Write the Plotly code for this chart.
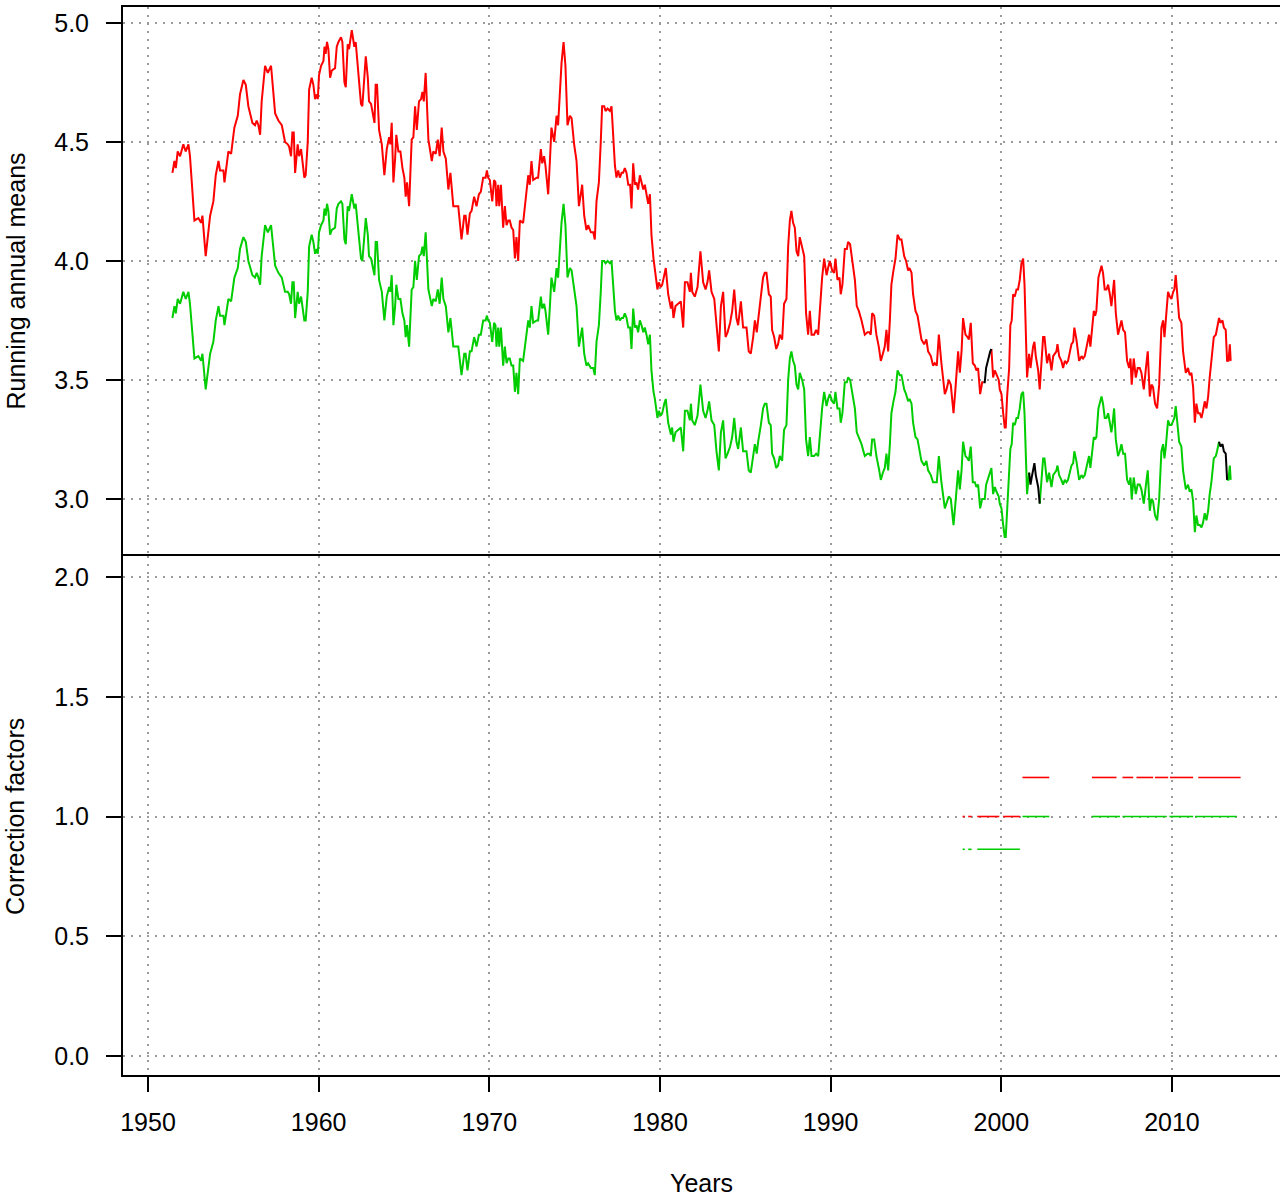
import numpy as np
import plotly.graph_objects as go

# ---- running annual means (time in decimal years) ----
years = [
    1951.43, 1951.55, 1951.63, 1951.74, 1951.88, 1952.07, 1952.21, 1952.37, 1952.46, 1952.72,
    1952.95, 1953.11, 1953.19, 1953.38, 1953.64, 1953.83, 1953.97, 1954.13, 1954.22, 1954.42,
    1954.48, 1954.71, 1954.87, 1955.06, 1955.26, 1955.39, 1955.59, 1955.73, 1955.88, 1956.12,
    1956.27, 1956.37, 1956.47, 1956.57, 1956.66, 1956.86, 1957.02, 1957.21, 1957.45, 1957.64,
    1957.84, 1958.03, 1958.19, 1958.27, 1958.38, 1958.46, 1958.54, 1958.62, 1958.77, 1958.85,
    1958.97, 1959.16, 1959.24, 1959.36, 1959.44, 1959.59, 1959.69, 1959.79, 1959.89, 1959.95,
    1960.02, 1960.14, 1960.28, 1960.34, 1960.41, 1960.49, 1960.57, 1960.67, 1960.77, 1960.96,
    1961.06, 1961.16, 1961.31, 1961.39, 1961.51, 1961.59, 1961.70, 1961.78, 1961.94, 1962.09,
    1962.17, 1962.33, 1962.48, 1962.56, 1962.68, 1962.76, 1962.88, 1962.95, 1963.07, 1963.15,
    1963.27, 1963.34, 1963.42, 1963.54, 1963.70, 1963.85, 1963.99, 1964.13, 1964.20, 1964.28,
    1964.38, 1964.48, 1964.55, 1964.67, 1964.79, 1964.91, 1965.02, 1965.10, 1965.18, 1965.30,
    1965.45, 1965.55, 1965.65, 1965.75, 1965.88, 1966.00, 1966.08, 1966.16, 1966.27, 1966.43,
    1966.63, 1966.72, 1966.86, 1966.98, 1967.09, 1967.21, 1967.31, 1967.45, 1967.60, 1967.72,
    1967.89, 1968.18, 1968.37, 1968.53, 1968.61, 1968.72, 1968.86, 1968.96, 1969.11, 1969.25,
    1969.39, 1969.50, 1969.64, 1969.78, 1969.86, 1969.93, 1970.03, 1970.17, 1970.28, 1970.36,
    1970.42, 1970.52, 1970.58, 1970.68, 1970.81, 1970.91, 1971.01, 1971.11, 1971.20, 1971.30,
    1971.40, 1971.50, 1971.59, 1971.69, 1971.79, 1971.98, 1972.12, 1972.28, 1972.37, 1972.47,
    1972.57, 1972.77, 1972.86, 1973.02, 1973.10, 1973.21, 1973.29, 1973.45, 1973.55, 1973.64,
    1973.80, 1973.94, 1974.03, 1974.13, 1974.23, 1974.35, 1974.46, 1974.58, 1974.72, 1974.82,
    1974.97, 1975.11, 1975.25, 1975.36, 1975.44, 1975.56, 1975.69, 1975.79, 1975.95, 1976.09,
    1976.18, 1976.28, 1976.42, 1976.53, 1976.61, 1976.73, 1976.81, 1976.93, 1977.06, 1977.16,
    1977.26, 1977.36, 1977.45, 1977.55, 1977.65, 1977.75, 1977.84, 1977.94, 1978.04, 1978.14,
    1978.25, 1978.33, 1978.43, 1978.53, 1978.62, 1978.72, 1978.82, 1978.92, 1979.02, 1979.11,
    1979.21, 1979.31, 1979.41, 1979.50, 1979.62, 1979.70, 1979.85, 1979.93, 1980.05, 1980.13,
    1980.25, 1980.34, 1980.48, 1980.64, 1980.71, 1980.79, 1980.91, 1981.07, 1981.22, 1981.36,
    1981.46, 1981.61, 1981.75, 1981.81, 1981.89, 1982.04, 1982.20, 1982.37, 1982.53, 1982.67,
    1982.78, 1982.88, 1983.02, 1983.18, 1983.31, 1983.45, 1983.57, 1983.70, 1983.84, 1983.96,
    1984.11, 1984.23, 1984.35, 1984.48, 1984.58, 1984.74, 1984.87, 1985.07, 1985.20, 1985.32,
    1985.46, 1985.56, 1985.67, 1985.75, 1985.91, 1986.04, 1986.14, 1986.24, 1986.38, 1986.49,
    1986.57, 1986.69, 1986.81, 1986.92, 1987.02, 1987.16, 1987.27, 1987.41, 1987.51, 1987.61,
    1987.70, 1987.80, 1987.90, 1988.00, 1988.10, 1988.19, 1988.33, 1988.45, 1988.56, 1988.68,
    1988.78, 1988.88, 1989.03, 1989.15, 1989.27, 1989.36, 1989.50, 1989.62, 1989.76, 1989.85,
    1989.95, 1990.09, 1990.20, 1990.28, 1990.40, 1990.52, 1990.59, 1990.69, 1990.83, 1990.95,
    1991.02, 1991.14, 1991.22, 1991.32, 1991.42, 1991.53, 1991.65, 1991.81, 1991.92, 1992.00,
    1992.16, 1992.27, 1992.35, 1992.43, 1992.55, 1992.68, 1992.82, 1992.94, 1993.06, 1993.17,
    1993.27, 1993.37, 1993.47, 1993.56, 1993.68, 1993.80, 1993.92, 1994.05, 1994.15, 1994.31,
    1994.42, 1994.54, 1994.62, 1994.74, 1994.83, 1994.97, 1995.09, 1995.22, 1995.32, 1995.48,
    1995.61, 1995.71, 1995.87, 1996.00, 1996.10, 1996.22, 1996.34, 1996.49, 1996.69, 1996.79,
    1996.92, 1997.04, 1997.20, 1997.31, 1997.47, 1997.57, 1997.67, 1997.76, 1997.90, 1998.02,
    1998.10, 1998.21, 1998.33, 1998.45, 1998.54, 1998.64, 1998.76, 1998.88, 1998.95, 1999.03,
    1999.11, 1999.23, 1999.35, 1999.42, 1999.52, 1999.62, 1999.72, 1999.85, 1999.91, 2000.01,
    2000.11, 2000.20, 2000.26, 2000.34, 2000.46, 2000.53, 2000.61, 2000.69, 2000.79, 2000.89,
    2000.98, 2001.08, 2001.18, 2001.28, 2001.36, 2001.43, 2001.51, 2001.63, 2001.71, 2001.78,
    2001.86, 2001.94, 2002.02, 2002.16, 2002.25, 2002.35, 2002.45, 2002.53, 2002.61, 2002.68,
    2002.80, 2002.94, 2003.04, 2003.13, 2003.23, 2003.29, 2003.39, 2003.52, 2003.62, 2003.72,
    2003.82, 2003.91, 2004.01, 2004.11, 2004.21, 2004.28, 2004.40, 2004.56, 2004.70, 2004.79,
    2004.89, 2005.03, 2005.14, 2005.22, 2005.30, 2005.42, 2005.50, 2005.57, 2005.69, 2005.77,
    2005.87, 2005.96, 2006.06, 2006.16, 2006.26, 2006.36, 2006.45, 2006.51, 2006.61, 2006.71,
    2006.84, 2006.94, 2007.04, 2007.14, 2007.25, 2007.37, 2007.49, 2007.57, 2007.64, 2007.76,
    2007.88, 2007.99, 2008.11, 2008.21, 2008.35, 2008.46, 2008.58, 2008.70, 2008.80, 2008.89,
    2009.01, 2009.13, 2009.25, 2009.38, 2009.48, 2009.56, 2009.64, 2009.77, 2009.87, 2009.97,
    2010.07, 2010.14, 2010.22, 2010.30, 2010.42, 2010.55, 2010.65, 2010.81, 2010.94, 2011.04,
    2011.14, 2011.24, 2011.34, 2011.43, 2011.53, 2011.63, 2011.73, 2011.82, 2011.92, 2012.02,
    2012.12, 2012.21, 2012.31, 2012.45, 2012.57, 2012.64, 2012.76, 2012.84, 2012.96, 2013.04,
    2013.15, 2013.23, 2013.31, 2013.39, 2013.44,
]

red_means = [
    4.37, 4.42, 4.39, 4.46, 4.44, 4.49, 4.46, 4.49, 4.44, 4.17,
    4.18, 4.16, 4.19, 4.02, 4.19, 4.25, 4.36, 4.42, 4.38, 4.38,
    4.33, 4.46, 4.45, 4.56, 4.61, 4.70, 4.76, 4.74, 4.65, 4.58,
    4.57, 4.59, 4.57, 4.53, 4.67, 4.82, 4.79, 4.82, 4.62, 4.59,
    4.57, 4.50, 4.49, 4.48, 4.44, 4.54, 4.54, 4.37, 4.49, 4.44,
    4.47, 4.35, 4.36, 4.50, 4.72, 4.77, 4.74, 4.68, 4.70, 4.68,
    4.78, 4.82, 4.84, 4.90, 4.87, 4.92, 4.89, 4.77, 4.80, 4.81,
    4.90, 4.92, 4.94, 4.92, 4.75, 4.73, 4.91, 4.89, 4.97, 4.90,
    4.92, 4.80, 4.66, 4.65, 4.78, 4.86, 4.77, 4.67, 4.66, 4.62,
    4.58, 4.74, 4.74, 4.55, 4.49, 4.36, 4.47, 4.52, 4.49, 4.58,
    4.33, 4.43, 4.53, 4.46, 4.46, 4.39, 4.35, 4.27, 4.33, 4.23,
    4.51, 4.52, 4.65, 4.55, 4.67, 4.68, 4.71, 4.67, 4.79, 4.51,
    4.42, 4.46, 4.45, 4.51, 4.44, 4.56, 4.46, 4.43, 4.30, 4.37,
    4.23, 4.23, 4.09, 4.19, 4.19, 4.11, 4.20, 4.21, 4.27, 4.23,
    4.28, 4.29, 4.35, 4.35, 4.38, 4.35, 4.34, 4.25, 4.34, 4.33,
    4.23, 4.32, 4.23, 4.32, 4.14, 4.23, 4.15, 4.17, 4.17, 4.14,
    4.13, 4.01, 4.10, 4.00, 4.17, 4.16, 4.25, 4.36, 4.32, 4.42,
    4.34, 4.35, 4.35, 4.47, 4.41, 4.44, 4.40, 4.28, 4.42, 4.56,
    4.50, 4.61, 4.57, 4.70, 4.83, 4.92, 4.82, 4.57, 4.61, 4.60,
    4.49, 4.42, 4.23, 4.28, 4.32, 4.19, 4.13, 4.15, 4.12, 4.12,
    4.09, 4.25, 4.33, 4.50, 4.65, 4.65, 4.63, 4.64, 4.63, 4.65,
    4.54, 4.40, 4.35, 4.38, 4.35, 4.37, 4.37, 4.39, 4.37, 4.32,
    4.32, 4.22, 4.41, 4.32, 4.33, 4.30, 4.36, 4.33, 4.30, 4.32,
    4.28, 4.24, 4.28, 4.11, 4.01, 3.97, 3.88, 3.91, 3.89, 3.90,
    3.95, 3.97, 3.86, 3.80, 3.83, 3.76, 3.81, 3.82, 3.83, 3.72,
    3.91, 3.91, 3.87, 3.95, 3.87, 3.85, 3.89, 4.04, 3.91, 3.88,
    3.91, 3.96, 3.87, 3.84, 3.72, 3.62, 3.81, 3.87, 3.68, 3.70,
    3.74, 3.79, 3.88, 3.76, 3.73, 3.83, 3.72, 3.72, 3.62, 3.61,
    3.68, 3.75, 3.70, 3.76, 3.85, 3.93, 3.95, 3.95, 3.86, 3.85,
    3.71, 3.68, 3.63, 3.65, 3.69, 3.67, 3.82, 3.84, 4.06, 4.17,
    4.21, 4.16, 4.14, 4.04, 4.02, 4.10, 4.06, 4.02, 3.78, 3.69,
    3.79, 3.69, 3.69, 3.71, 3.69, 3.79, 3.93, 4.01, 3.94, 3.97,
    4.00, 3.96, 3.95, 4.01, 3.92, 3.93, 3.86, 3.90, 4.05, 4.05,
    4.08, 4.07, 4.02, 3.97, 3.92, 3.81, 3.79, 3.75, 3.72, 3.69,
    3.70, 3.70, 3.69, 3.78, 3.77, 3.69, 3.64, 3.58, 3.61, 3.64,
    3.71, 3.62, 3.75, 3.90, 3.96, 4.01, 4.11, 4.09, 4.09, 4.02,
    4.00, 3.96, 3.97, 3.95, 3.86, 3.79, 3.77, 3.71, 3.67, 3.65,
    3.67, 3.62, 3.60, 3.56, 3.57, 3.56, 3.69, 3.57, 3.44, 3.46,
    3.50, 3.48, 3.36, 3.46, 3.62, 3.53, 3.62, 3.76, 3.69, 3.68,
    3.67, 3.74, 3.57, 3.56, 3.54, 3.55, 3.44, 3.49, 3.49, 3.49,
    3.55, 3.59, 3.62, 3.63, 3.51, 3.54, 3.52, 3.50, 3.46, 3.44,
    3.36, 3.30, 3.30, 3.43, 3.55, 3.73, 3.75, 3.86, 3.85, 3.88,
    3.88, 3.92, 3.99, 4.01, 3.90, 3.71, 3.51, 3.61, 3.55, 3.59,
    3.64, 3.66, 3.60, 3.54, 3.46, 3.57, 3.68, 3.68, 3.62, 3.57,
    3.61, 3.54, 3.60, 3.61, 3.62, 3.65, 3.60, 3.58, 3.55, 3.58,
    3.57, 3.58, 3.61, 3.65, 3.66, 3.72, 3.67, 3.58, 3.60, 3.59,
    3.60, 3.65, 3.69, 3.64, 3.71, 3.79, 3.77, 3.79, 3.93, 3.95,
    3.98, 3.95, 3.88, 3.88, 3.90, 3.86, 3.81, 3.85, 3.92, 3.78,
    3.69, 3.72, 3.75, 3.71, 3.70, 3.58, 3.55, 3.59, 3.48, 3.59,
    3.51, 3.55, 3.55, 3.53, 3.46, 3.54, 3.62, 3.43, 3.48, 3.47,
    3.40, 3.38, 3.48, 3.72, 3.75, 3.68, 3.74, 3.87, 3.85, 3.84,
    3.87, 3.88, 3.94, 3.86, 3.76, 3.74, 3.62, 3.53, 3.55, 3.52,
    3.53, 3.47, 3.32, 3.40, 3.36, 3.36, 3.34, 3.37, 3.41, 3.38,
    3.43, 3.51, 3.57, 3.68, 3.69, 3.72, 3.76, 3.74, 3.75, 3.72,
    3.71, 3.58, 3.58, 3.65, 3.58,
]

green_means = [
    3.76, 3.81, 3.78, 3.84, 3.82, 3.87, 3.84, 3.87, 3.82, 3.59,
    3.60, 3.58, 3.61, 3.46, 3.61, 3.66, 3.75, 3.81, 3.77, 3.77,
    3.73, 3.84, 3.83, 3.93, 3.97, 4.05, 4.10, 4.08, 4.00, 3.94,
    3.93, 3.95, 3.93, 3.90, 4.02, 4.15, 4.12, 4.15, 3.98, 3.95,
    3.93, 3.87, 3.87, 3.86, 3.82, 3.91, 3.91, 3.76, 3.87, 3.82,
    3.85, 3.75, 3.75, 3.87, 4.06, 4.11, 4.08, 4.03, 4.05, 4.03,
    4.12, 4.15, 4.17, 4.22, 4.19, 4.24, 4.21, 4.11, 4.13, 4.14,
    4.22, 4.24, 4.25, 4.24, 4.09, 4.07, 4.23, 4.21, 4.28, 4.22,
    4.24, 4.13, 4.01, 4.00, 4.12, 4.18, 4.11, 4.02, 4.01, 3.98,
    3.94, 4.08, 4.08, 3.92, 3.87, 3.75, 3.85, 3.89, 3.87, 3.94,
    3.73, 3.81, 3.90, 3.84, 3.84, 3.78, 3.75, 3.68, 3.73, 3.64,
    3.88, 3.89, 4.00, 3.92, 4.02, 4.03, 4.06, 4.02, 4.12, 3.88,
    3.81, 3.84, 3.83, 3.88, 3.82, 3.93, 3.84, 3.81, 3.70, 3.76,
    3.64, 3.64, 3.52, 3.61, 3.61, 3.54, 3.62, 3.62, 3.68, 3.64,
    3.69, 3.69, 3.75, 3.75, 3.77, 3.75, 3.74, 3.66, 3.74, 3.73,
    3.64, 3.72, 3.64, 3.72, 3.56, 3.64, 3.57, 3.59, 3.59, 3.56,
    3.56, 3.45, 3.53, 3.44, 3.59, 3.58, 3.66, 3.75, 3.72, 3.81,
    3.74, 3.75, 3.75, 3.85, 3.80, 3.82, 3.79, 3.69, 3.81, 3.93,
    3.87, 3.97, 3.93, 4.05, 4.16, 4.24, 4.15, 3.93, 3.97, 3.96,
    3.87, 3.81, 3.64, 3.69, 3.72, 3.61, 3.56, 3.57, 3.55, 3.55,
    3.52, 3.66, 3.73, 3.87, 4.00, 4.00, 3.99, 4.00, 3.99, 4.00,
    3.91, 3.79, 3.75, 3.77, 3.75, 3.76, 3.76, 3.78, 3.76, 3.72,
    3.72, 3.63, 3.80, 3.72, 3.73, 3.70, 3.75, 3.73, 3.70, 3.72,
    3.69, 3.65, 3.69, 3.54, 3.45, 3.42, 3.34, 3.37, 3.35, 3.36,
    3.40, 3.42, 3.32, 3.27, 3.30, 3.24, 3.28, 3.29, 3.30, 3.20,
    3.37, 3.37, 3.33, 3.40, 3.33, 3.31, 3.35, 3.48, 3.37, 3.34,
    3.37, 3.41, 3.33, 3.31, 3.20, 3.12, 3.28, 3.33, 3.17, 3.19,
    3.22, 3.26, 3.34, 3.24, 3.21, 3.30, 3.20, 3.20, 3.12, 3.11,
    3.17, 3.23, 3.19, 3.24, 3.31, 3.38, 3.40, 3.40, 3.32, 3.31,
    3.19, 3.17, 3.13, 3.14, 3.18, 3.16, 3.29, 3.31, 3.50, 3.59,
    3.62, 3.58, 3.56, 3.48, 3.46, 3.53, 3.50, 3.46, 3.25, 3.18,
    3.26, 3.18, 3.18, 3.19, 3.18, 3.26, 3.38, 3.45, 3.39, 3.42,
    3.44, 3.41, 3.40, 3.45, 3.38, 3.38, 3.32, 3.36, 3.49, 3.49,
    3.51, 3.50, 3.46, 3.42, 3.38, 3.28, 3.26, 3.23, 3.20, 3.18,
    3.19, 3.19, 3.18, 3.25, 3.25, 3.18, 3.13, 3.08, 3.11, 3.13,
    3.19, 3.12, 3.23, 3.36, 3.41, 3.45, 3.54, 3.52, 3.52, 3.46,
    3.44, 3.41, 3.42, 3.40, 3.32, 3.26, 3.25, 3.19, 3.16, 3.14,
    3.16, 3.12, 3.10, 3.07, 3.07, 3.07, 3.18, 3.07, 2.96, 2.98,
    3.01, 3.00, 2.89, 2.98, 3.12, 3.04, 3.12, 3.24, 3.18, 3.17,
    3.16, 3.22, 3.07, 3.07, 3.05, 3.06, 2.96, 3.00, 3.00, 3.00,
    3.06, 3.09, 3.12, 3.13, 3.02, 3.05, 3.03, 3.01, 2.98, 2.96,
    2.89, 2.84, 2.84, 2.95, 3.06, 3.21, 3.23, 3.32, 3.31, 3.34,
    3.34, 3.38, 3.44, 3.45, 3.36, 3.19, 3.02, 3.11, 3.06, 3.09,
    3.13, 3.15, 3.10, 3.05, 2.98, 3.07, 3.17, 3.17, 3.12, 3.07,
    3.11, 3.05, 3.10, 3.11, 3.12, 3.14, 3.10, 3.08, 3.06, 3.08,
    3.07, 3.08, 3.11, 3.14, 3.15, 3.20, 3.16, 3.08, 3.10, 3.09,
    3.10, 3.14, 3.18, 3.13, 3.19, 3.26, 3.25, 3.26, 3.38, 3.40,
    3.43, 3.40, 3.34, 3.34, 3.36, 3.32, 3.28, 3.31, 3.38, 3.25,
    3.18, 3.20, 3.23, 3.19, 3.19, 3.08, 3.06, 3.09, 3.00, 3.09,
    3.02, 3.06, 3.06, 3.04, 2.98, 3.05, 3.12, 2.95, 3.00, 2.99,
    2.93, 2.91, 3.00, 3.20, 3.23, 3.17, 3.22, 3.33, 3.31, 3.31,
    3.33, 3.34, 3.39, 3.32, 3.24, 3.22, 3.12, 3.04, 3.06, 3.03,
    3.04, 2.99, 2.86, 2.93, 2.89, 2.89, 2.88, 2.90, 2.94, 2.91,
    2.95, 3.02, 3.07, 3.17, 3.18, 3.20, 3.24, 3.22, 3.23, 3.20,
    3.19, 3.08, 3.08, 3.14, 3.08,
]

# stretches of each series drawn in black (start, end year)
red_black_spans = [(1998.95, 1999.42)]
green_black_spans = [(2001.63, 2002.25), (2012.76, 2013.23)]

# ---- correction factors: runs of constant value (start, end, factor) ----
red_factor_runs = [
    (1997.73, 1997.86, 1.0), (1998.06, 1998.26, 1.0), (1998.59, 1999.88, 1.0),
    (2000.11, 2001.09, 1.0), (2001.24, 2002.81, 1.163), (2005.31, 2006.75, 1.163),
    (2007.10, 2007.73, 1.163), (2007.92, 2008.90, 1.163), (2009.00, 2009.78, 1.163),
    (2009.88, 2011.24, 1.163), (2011.54, 2014.02, 1.163),
]
green_factor_runs = [
    (1997.73, 1997.86, 0.863), (1998.06, 1998.26, 0.863), (1998.59, 2001.09, 0.863),
    (2001.24, 2002.81, 1.0), (2005.31, 2006.95, 1.0), (2007.10, 2009.70, 1.0),
    (2009.85, 2011.24, 1.0), (2011.35, 2013.80, 1.0),
]

RED = "#FF0000"
GREEN = "#00CD00"
BLACK = "#000000"
GRID = "#9a9a9a"
FONT = "Liberation Sans, Arial, Helvetica, sans-serif"

x_years = np.array(years)


def in_spans(spans):
    mask = np.zeros(len(x_years), dtype=bool)
    for a, b in spans:
        mask |= (x_years >= a) & (x_years <= b)
    return mask


def interior(spans):
    mask = np.zeros(len(x_years), dtype=bool)
    for a, b in spans:
        mask |= (x_years > a) & (x_years < b)
    return mask


def masked(values, mask):
    return [v if m else None for v, m in zip(values, mask)]


def runs_to_xy(runs):
    xs, ys = [], []
    for a, b, v in runs:
        xs += [a, b, None]
        ys += [v, v, None]
    return xs, ys


fig = go.Figure()

# top panel: running means
for vals, col, spans in [(red_means, RED, red_black_spans),
                         (green_means, GREEN, green_black_spans)]:
    fig.add_trace(go.Scatter(x=years, y=masked(vals, ~interior(spans)), mode="lines",
                             line=dict(color=col, width=2), xaxis="x2", yaxis="y2",
                             hoverinfo="skip"))
for vals, spans in [(red_means, red_black_spans), (green_means, green_black_spans)]:
    fig.add_trace(go.Scatter(x=years, y=masked(vals, in_spans(spans)), mode="lines",
                             line=dict(color=BLACK, width=2), xaxis="x2", yaxis="y2",
                             hoverinfo="skip"))

# bottom panel: correction factors
for runs, col in [(red_factor_runs, RED), (green_factor_runs, GREEN)]:
    fx, fy = runs_to_xy(runs)
    fig.add_trace(go.Scatter(x=fx, y=fy, mode="lines", line=dict(color=col, width=1.6),
                             xaxis="x", yaxis="y", hoverinfo="skip"))

x_range = [1948.535, 2016.33]
x_ticks = [1950, 1960, 1970, 1980, 1990, 2000, 2010]
split = 519 / 1068

grid_kw = dict(showgrid=True, gridcolor=GRID, gridwidth=1.5, griddash="2px,6px", zeroline=False)
line_kw = dict(showline=True, linecolor=BLACK, linewidth=2)
tick_kw = dict(ticks="outside", ticklen=15, tickwidth=2, tickcolor=BLACK,
               tickfont=dict(family=FONT, size=25, color=BLACK))

fig.update_layout(
    width=1280, height=1199,
    margin=dict(l=123, r=0, t=7, b=124, pad=0),
    paper_bgcolor="white", plot_bgcolor="white",
    showlegend=False,
    font=dict(family=FONT, size=25, color=BLACK),
    xaxis=dict(domain=[0, 1], anchor="y", range=x_range, tickvals=x_ticks,
               ticktext=[str(t) for t in x_ticks], mirror=True, ticklabelstandoff=9,
               **grid_kw, **line_kw, **tick_kw),
    xaxis2=dict(domain=[0, 1], anchor="y2", range=x_range, tickvals=x_ticks, side="top",
                showticklabels=False, ticks="", mirror=False, **grid_kw, **line_kw),
    yaxis=dict(domain=[0, split], anchor="x", range=[-0.0793, 2.0877],
               tickvals=[0, 0.5, 1, 1.5, 2], ticktext=["0.0", "0.5", "1.0", "1.5", "2.0"],
               ticklabelstandoff=12, **grid_kw, **line_kw, **tick_kw),
    yaxis2=dict(domain=[split, 1], anchor="x2", range=[2.760, 5.067],
                tickvals=[3, 3.5, 4, 4.5, 5], ticktext=["3.0", "3.5", "4.0", "4.5", "5.0"],
                ticklabelstandoff=12, **grid_kw, **line_kw, **tick_kw),
    annotations=[
        dict(text="Running annual means", xref="paper", yref="paper", x=-0.0933,
             y=(1075 - 281.5) / 1068, textangle=-90, showarrow=False,
             xanchor="center", yanchor="middle", font=dict(family=FONT, size=25)),
        dict(text="Correction factors", xref="paper", yref="paper", x=-0.0933,
             y=(1075 - 817) / 1068, textangle=-90, showarrow=False,
             xanchor="center", yanchor="middle", font=dict(family=FONT, size=25)),
        dict(text="Years", xref="paper", yref="paper", x=0.5004,
             y=(1075 - 1183) / 1068, showarrow=False,
             xanchor="center", yanchor="middle", font=dict(family=FONT, size=25)),
    ],
)

fig.write_html("out.html")
